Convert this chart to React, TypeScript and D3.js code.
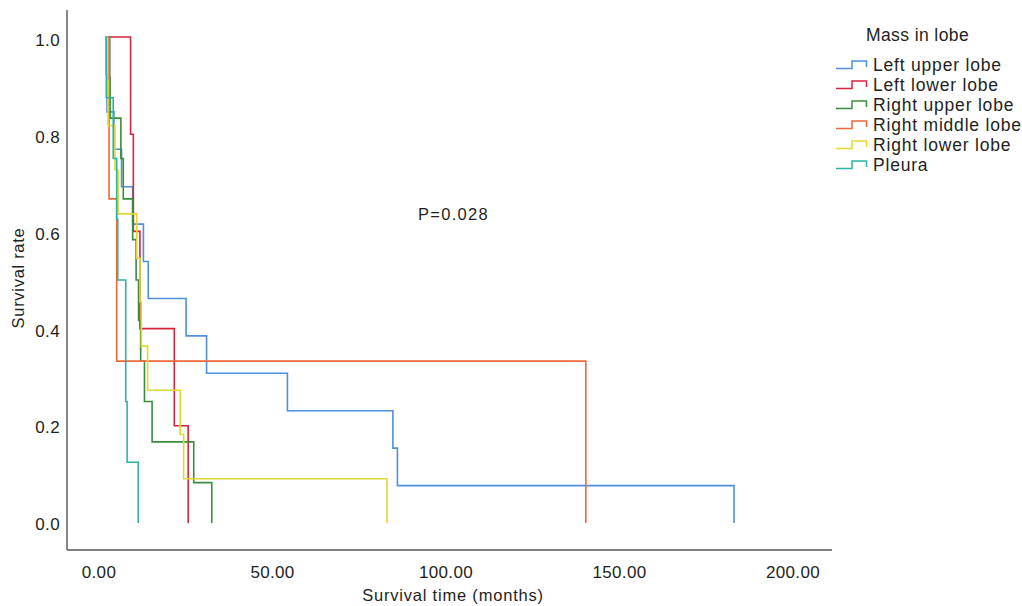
import React from "react";
import * as d3 from "d3";

// ---- Data ----
const xTicks = [0, 50, 100, 150, 200];
const yTicks = [0, 0.2, 0.4, 0.6, 0.8, 1.0];

const seriesNames = [
  "Left upper lobe",
  "Left lower lobe",
  "Right upper lobe",
  "Right middle lobe",
  "Right lower lobe",
  "Pleura",
];
const seriesColors = ["#4f8fdb", "#d7243f", "#3b8d3b", "#f0673a", "#e2d832", "#2bb3a3"];

const leftUpperTimes = [1.9, 2.1, 2.3, 4.3, 6.5, 9.7, 12.8, 14.2, 25.1, 31.0, 54.3, 84.7, 86.0, 183.0];
const leftUpperSurv = [1, 0.923, 0.846, 0.769, 0.692, 0.615, 0.538, 0.462, 0.385, 0.308, 0.231, 0.154, 0.077, 0];

const leftLowerTimes = [1.9, 9.1, 9.9, 11.8, 21.7, 25.7];
const leftLowerSurv = [1, 0.8, 0.6, 0.4, 0.2, 0];

const rightUpperTimes = [1.9, 3.1, 3.2, 6.3, 7.0, 9.7, 10.7, 11.4, 12.0, 13.1, 15.3, 27.3, 32.5];
const rightUpperSurv = [1, 0.917, 0.833, 0.75, 0.667, 0.583, 0.5, 0.417, 0.333, 0.25, 0.167, 0.083, 0];

const rightMiddleTimes = [1.9, 2.9, 5.1, 140.3];
const rightMiddleSurv = [1, 0.667, 0.333, 0];

const rightLowerTimes = [1.9, 2.3, 2.6, 4.6, 5.5, 10.9, 11.8, 12.2, 14.0, 23.4, 24.4, 83.0];
const rightLowerSurv = [1, 0.909, 0.818, 0.727, 0.636, 0.545, 0.455, 0.364, 0.273, 0.182, 0.091, 0];

const pleuraTimes = [1.9, 2.1, 4.1, 5.1, 5.4, 7.7, 8.1, 11.3];
const pleuraSurv = [1, 0.875, 0.75, 0.625, 0.5, 0.25, 0.125, 0];

const seriesTimes = [leftUpperTimes, leftLowerTimes, rightUpperTimes, rightMiddleTimes, rightLowerTimes, pleuraTimes];
const seriesSurv = [leftUpperSurv, leftLowerSurv, rightUpperSurv, rightMiddleSurv, rightLowerSurv, pleuraSurv];

const legendTitle = "Mass in lobe";
const pText = "P=0.028";
const xTitle = "Survival time (months)";
const yTitle = "Survival rate";

export default function App() {
  const W = 1022;
  const H = 606;
  const x = d3.scaleLinear().domain([0, 200]).range([99, 793]);
  const y = d3.scaleLinear().domain([0, 1]).range([523, 37]);
  const yLabel = d3.scaleLinear().domain([0, 1]).range([524, 40]);
  const axisLeft = 67;
  const axisBottom = 550;
  const axisTop = 10;
  const axisRight = 832;
  const font = "'Liberation Sans', Arial, Helvetica, sans-serif";
  const textColor = "#231f20";

  const line = d3
    .line<[number, number]>()
    .x((d) => x(d[0]))
    .y((d) => y(d[1]))
    .curve(d3.curveStepAfter);

  return (
    <svg width={W} height={H} style={{ position: "absolute", left: 0, top: 0, background: "#fff" }} fontFamily={font}>
      <rect x={0} y={0} width={W} height={H} fill="#fff" />
      {/* axes */}
      <line x1={axisLeft} y1={axisTop} x2={axisLeft} y2={axisBottom} stroke="#555" strokeWidth={1.4} />
      <line x1={axisLeft} y1={axisBottom} x2={axisRight} y2={axisBottom} stroke="#555" strokeWidth={1.4} />

      {yTicks.map((t) => (
        <text key={"y" + t} x={60} y={yLabel(t)} dy="0.36em" textAnchor="end" fontSize={17} letterSpacing={0.4} fill={textColor}>
          {t.toFixed(1)}
        </text>
      ))}
      {xTicks.map((t) => (
        <text key={"x" + t} x={x(t)} y={578} textAnchor="middle" fontSize={17} letterSpacing={0.3} fill={textColor}>
          {t.toFixed(2)}
        </text>
      ))}
      <text x={453} y={601} textAnchor="middle" fontSize={16.5} letterSpacing={0.8} fill={textColor}>
        {xTitle}
      </text>
      <text
        transform={`translate(24,278) rotate(-90)`}
        textAnchor="middle"
        fontSize={16.5}
        letterSpacing={0.7}
        fill={textColor}
      >
        {yTitle}
      </text>

      {/* curves */}
      {seriesNames.map((name, i) => {
        const pts = seriesTimes[i].map((t, j) => [t, seriesSurv[i][j]] as [number, number]);
        return (
          <path
            key={name}
            d={line(pts) || ""}
            fill="none"
            stroke={seriesColors[i]}
            strokeWidth={1.6}
            strokeLinejoin="miter"
          />
        );
      })}

      <text x={418} y={220} fontSize={16.5} letterSpacing={1.3} fill={textColor}>
        {pText}
      </text>

      {/* legend */}
      <text x={866} y={41} fontSize={17.5} letterSpacing={0.4} fill={textColor}>
        {legendTitle}
      </text>
      {seriesNames.map((name, i) => {
        const by = 71 + i * 20;
        return (
          <g key={"lg" + name}>
            <path
              d={`M836,${by - 2.5} H852 V${by - 10} H866.5 V${by - 4}`}
              fill="none"
              stroke={seriesColors[i]}
              strokeWidth={1.5}
            />
            <text x={873} y={by} fontSize={17.5} letterSpacing={0.8} fill={textColor}>
              {name}
            </text>
          </g>
        );
      })}
    </svg>
  );
}
